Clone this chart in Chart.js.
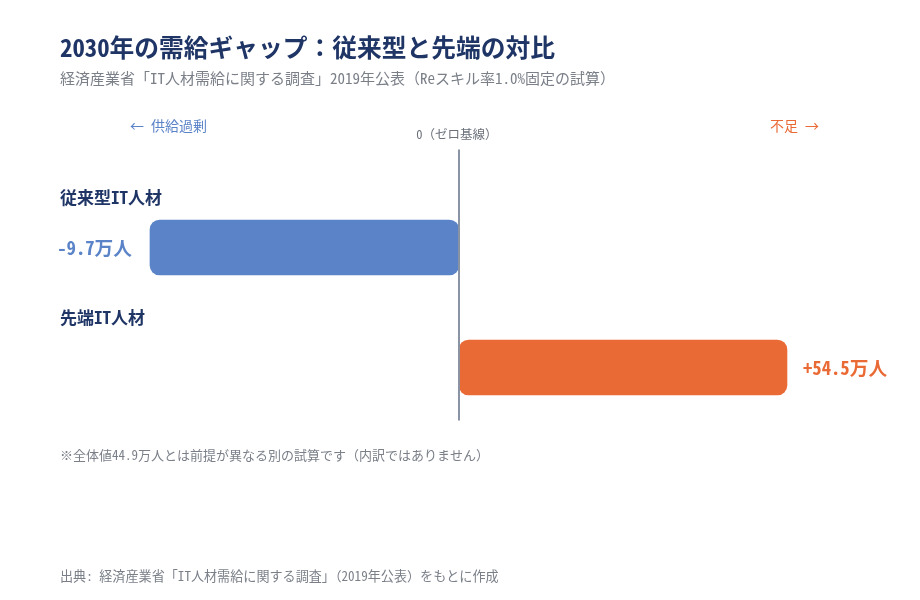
<!DOCTYPE html>
<html>
<head>
<meta charset="utf-8">
<title>2030年の需給ギャップ</title>
<script src="https://cdn.jsdelivr.net/npm/chart.js@4"></script>
<style>
  body { margin: 0; background: #fff; }
  #wrap { position: relative; width: 920px; height: 600px; font-family: "Noto Sans Mono CJK JP", "Noto Sans CJK JP", sans-serif; }
  #wrap canvas { position: absolute; left: 0; top: 0; }
  .txt { position: absolute; white-space: nowrap; line-height: 1; }
  #title { left: 60px; top: 34px; font-size: 24.75px; font-weight: bold; color: #1f3566; }
  #sub { left: 60px; top: 70px; font-size: 15px; color: #7a7f88; }
  #left { left: 130px; top: 118px; font-size: 14px; color: #5b84c8; }
  #right { left: 770px; top: 118px; font-size: 14px; color: #ea6a35; }
  #note { left: 60px; top: 448px; font-size: 13px; color: #7a7f88; }
  #src { left: 60px; top: 569px; font-size: 13.1px; color: #7a7f88; }
</style>
</head>
<body>
<div id="wrap">
  <canvas id="gapChart" width="920" height="600"></canvas>
  <div class="txt" id="title">2030年の需給ギャップ：従来型と先端の対比</div>
  <div class="txt" id="sub">経済産業省「IT人材需給に関する調査」2019年公表（Reスキル率1.0%固定の試算）</div>
  <div class="txt" id="left">← 供給過剰</div>
  <div class="txt" id="right">不足 →</div>
  <div class="txt" id="note">※全体値44.9万人とは前提が異なる別の試算です（内訳ではありません）</div>
  <div class="txt" id="src">出典: 経済産業省「IT人材需給に関する調査」（2019年公表）をもとに作成</div>
</div>
<script>
  // data
  var categories = ['従来型IT人材', '先端IT人材'];
  var gapValues = [-9.7, 54.5];   // 万人
  var unit = '万人';

  var FONT = '"Noto Sans Mono CJK JP", "Noto Sans CJK JP", sans-serif';
  var barColors = ['#5b84c8', '#ea6a35'];
  var axisIds = ['xl', 'xr'];

  // each bar gets its own dataset / x axis (the two sides are not drawn to the same scale)
  var datasets = categories.map(function(c, i) {
    return {
      label: c,
      data: categories.map(function(_, j) { return j === i ? gapValues[i] : null; }),
      xAxisID: axisIds[i],
      backgroundColor: barColors[i],
      borderRadius: 10,
      borderSkipped: false,
      barThickness: 55,
      grouped: false
    };
  });

  var labelPlugin = {
    id: 'labels',
    afterDatasetsDraw: function(chart) {
      var ctx = chart.ctx;
      var area = chart.chartArea;
      var zeroX = chart.scales.xl.getPixelForValue(0);

      // zero line
      ctx.save();
      ctx.strokeStyle = '#8a93a3';
      ctx.lineWidth = 2;
      ctx.beginPath();
      ctx.moveTo(zeroX, area.top - 38);
      ctx.lineTo(zeroX, area.bottom - 7);
      ctx.stroke();

      ctx.fillStyle = '#6b7079';
      ctx.font = '12.5px ' + FONT;
      ctx.textAlign = 'center';
      ctx.textBaseline = 'middle';
      ctx.fillText('0（ゼロ基線）', zeroX - 2, area.top - 53);

      chart.data.datasets.forEach(function(ds, i) {
        var bar = chart.getDatasetMeta(i).data[i];
        var v = gapValues[i];
        // category label above the bar
        ctx.fillStyle = '#1f3566';
        ctx.font = 'bold 17px ' + FONT;
        ctx.textAlign = 'left';
        ctx.fillText(categories[i], 60, bar.y - 50);
        // value label at the end of the bar
        ctx.fillStyle = barColors[i];
        ctx.font = 'bold 18.7px ' + FONT;
        var txt = (v > 0 ? '+' : '') + v.toFixed(1) + unit;
        if (v < 0) {
          ctx.textAlign = 'right';
          ctx.fillText(txt, bar.x - 18, bar.y);
        } else {
          ctx.textAlign = 'left';
          ctx.fillText(txt, bar.x + 16, bar.y);
        }
      });
      ctx.restore();
    }
  };

  new Chart(document.getElementById('gapChart'), {
    type: 'bar',
    data: { labels: categories, datasets: datasets },
    options: {
      indexAxis: 'y',
      responsive: false,
      animation: false,
      layout: { padding: { top: 187.5, bottom: 172.5, left: 60, right: 20 } },
      plugins: { legend: { display: false }, tooltip: { enabled: false } },
      scales: {
        y: { display: false, offset: true },
        xl: { axis: 'x', type: 'linear', display: false, min: -12.525, max: 13.844 },
        xr: { axis: 'x', type: 'linear', display: false, min: -66.30, max: 73.28 }
      }
    },
    plugins: [labelPlugin]
  });
</script>
</body>
</html>
